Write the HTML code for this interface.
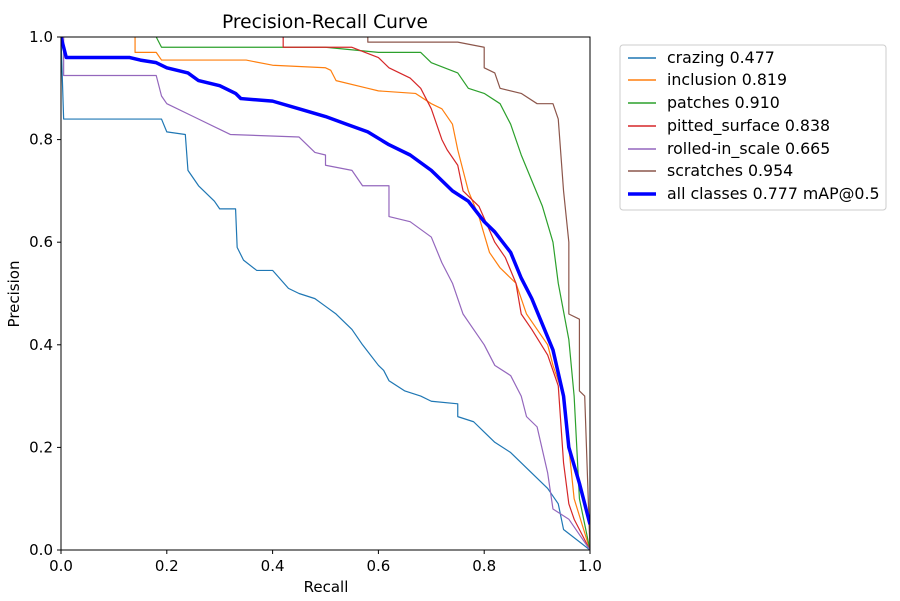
<!DOCTYPE html>
<html><head><meta charset="utf-8"><style>
body{margin:0;background:#fff;}
text{font-family:"DejaVu Sans","Liberation Sans",sans-serif;fill:#000;}
</style></head><body>
<svg width="900" height="596" xmlns="http://www.w3.org/2000/svg">
<rect width="900" height="596" fill="#fff"/>
<text x="325" y="28" font-size="18.6" text-anchor="middle">Precision-Recall Curve</text>
<defs><clipPath id="c"><rect x="61" y="37" width="529" height="513"/></clipPath></defs>
<g clip-path="url(#c)" fill="none" stroke-linejoin="round">
<g transform="translate(61,550) scale(529,-513)">
<polyline vector-effect="non-scaling-stroke" stroke="#1f77b4" stroke-width="1.2" points="0,1 0.005,0.84 0.19,0.84 0.2,0.815 0.235,0.81 0.24,0.74 0.26,0.71 0.29,0.68 0.3,0.665 0.33,0.665 0.333,0.59 0.345,0.565 0.37,0.545 0.4,0.545 0.43,0.51 0.45,0.5 0.48,0.49 0.5,0.475 0.52,0.46 0.55,0.43 0.57,0.4 0.6,0.36 0.61,0.35 0.62,0.33 0.65,0.31 0.68,0.3 0.7,0.29 0.75,0.285 0.75,0.26 0.78,0.25 0.8,0.23 0.82,0.21 0.85,0.19 0.88,0.16 0.9,0.14 0.92,0.12 0.94,0.09 0.95,0.04 1,0"/>
<polyline vector-effect="non-scaling-stroke" stroke="#ff7f0e" stroke-width="1.2" points="0.14,1 0.14,0.97 0.18,0.97 0.19,0.955 0.35,0.955 0.4,0.945 0.5,0.94 0.51,0.935 0.52,0.915 0.58,0.9 0.6,0.895 0.67,0.89 0.7,0.87 0.72,0.86 0.74,0.83 0.75,0.78 0.77,0.7 0.79,0.65 0.81,0.58 0.83,0.55 0.86,0.52 0.88,0.46 0.9,0.43 0.92,0.4 0.93,0.36 0.95,0.3 0.96,0.2 0.97,0.1 1,0"/>
<polyline vector-effect="non-scaling-stroke" stroke="#2ca02c" stroke-width="1.2" points="0.18,1 0.19,0.98 0.5,0.98 0.6,0.97 0.68,0.97 0.7,0.95 0.75,0.93 0.77,0.9 0.8,0.89 0.83,0.87 0.85,0.83 0.87,0.77 0.89,0.72 0.91,0.67 0.93,0.6 0.94,0.52 0.96,0.41 0.97,0.3 0.98,0.1 1,0"/>
<polyline vector-effect="non-scaling-stroke" stroke="#d62728" stroke-width="1.2" points="0.42,1 0.42,0.98 0.55,0.98 0.6,0.96 0.62,0.94 0.66,0.92 0.68,0.9 0.7,0.86 0.72,0.8 0.73,0.78 0.75,0.75 0.76,0.7 0.79,0.67 0.82,0.6 0.84,0.57 0.86,0.52 0.87,0.46 0.89,0.43 0.92,0.38 0.94,0.32 0.95,0.17 0.96,0.09 0.97,0.06 1,0"/>
<polyline vector-effect="non-scaling-stroke" stroke="#9467bd" stroke-width="1.2" points="0.005,1 0.005,0.925 0.18,0.925 0.19,0.885 0.2,0.87 0.25,0.845 0.3,0.82 0.32,0.81 0.45,0.805 0.48,0.775 0.5,0.77 0.5,0.75 0.55,0.74 0.57,0.71 0.62,0.71 0.62,0.65 0.66,0.64 0.7,0.61 0.72,0.56 0.74,0.52 0.76,0.46 0.78,0.43 0.8,0.4 0.82,0.36 0.85,0.34 0.87,0.3 0.88,0.26 0.9,0.24 0.92,0.15 0.93,0.08 0.96,0.06 1,0"/>
<polyline vector-effect="non-scaling-stroke" stroke="#8c564b" stroke-width="1.2" points="0.58,1 0.58,0.99 0.75,0.99 0.8,0.98 0.8,0.94 0.82,0.93 0.83,0.9 0.87,0.89 0.9,0.87 0.93,0.87 0.94,0.84 0.95,0.7 0.96,0.6 0.96,0.46 0.98,0.45 0.98,0.31 0.99,0.3 1,0"/>
<polyline vector-effect="non-scaling-stroke" stroke="#0000ff" stroke-width="3.5" points="0,1 0.01,0.96 0.13,0.96 0.15,0.955 0.18,0.95 0.2,0.94 0.24,0.93 0.26,0.915 0.3,0.905 0.33,0.89 0.34,0.88 0.4,0.875 0.45,0.86 0.5,0.845 0.54,0.83 0.58,0.815 0.62,0.79 0.66,0.77 0.7,0.74 0.74,0.7 0.77,0.68 0.8,0.64 0.82,0.62 0.85,0.58 0.87,0.53 0.89,0.49 0.91,0.44 0.93,0.39 0.95,0.3 0.96,0.2 0.98,0.13 0.99,0.09 1,0.05"/>
</g></g>
<rect x="61" y="37" width="529" height="513" fill="none" stroke="#000" stroke-width="1"/>
<g stroke="#000" stroke-width="1">
<line x1="61" y1="550" x2="61" y2="554"/><line x1="166.8" y1="550" x2="166.8" y2="554"/><line x1="272.6" y1="550" x2="272.6" y2="554"/><line x1="378.4" y1="550" x2="378.4" y2="554"/><line x1="484.2" y1="550" x2="484.2" y2="554"/><line x1="590" y1="550" x2="590" y2="554"/>
<line x1="57" y1="550" x2="61" y2="550"/><line x1="57" y1="447.4" x2="61" y2="447.4"/><line x1="57" y1="344.8" x2="61" y2="344.8"/><line x1="57" y1="242.2" x2="61" y2="242.2"/><line x1="57" y1="139.6" x2="61" y2="139.6"/><line x1="57" y1="37" x2="61" y2="37"/>
</g>
<g font-size="15" text-anchor="middle">
<text x="61" y="571">0.0</text><text x="166.8" y="571">0.2</text><text x="272.6" y="571">0.4</text><text x="378.4" y="571">0.6</text><text x="484.2" y="571">0.8</text><text x="590" y="571">1.0</text>
</g>
<g font-size="15" text-anchor="end">
<text x="53" y="555">0.0</text><text x="53" y="452.4">0.2</text><text x="53" y="349.8">0.4</text><text x="53" y="247.2">0.6</text><text x="53" y="144.6">0.8</text><text x="53" y="42">1.0</text>
</g>
<text x="326" y="592" font-size="15" text-anchor="middle">Recall</text>
<text transform="translate(19,294) rotate(-90)" font-size="15" text-anchor="middle">Precision</text>
<rect x="620" y="45" width="266" height="165" rx="3" fill="#fff" stroke="#ccc"/>
<g stroke-width="1.5">
<line x1="628" y1="58" x2="656" y2="58" stroke="#1f77b4"/>
<line x1="628" y1="80" x2="656" y2="80" stroke="#ff7f0e"/>
<line x1="628" y1="103" x2="656" y2="103" stroke="#2ca02c"/>
<line x1="628" y1="126" x2="656" y2="126" stroke="#d62728"/>
<line x1="628" y1="149" x2="656" y2="149" stroke="#9467bd"/>
<line x1="628" y1="171" x2="656" y2="171" stroke="#8c564b"/>
<line x1="628" y1="194" x2="656" y2="194" stroke="#0000ff" stroke-width="3.5"/>
</g>
<g font-size="15.8">
<text x="667" y="63">crazing 0.477</text>
<text x="667" y="85">inclusion 0.819</text>
<text x="667" y="108">patches 0.910</text>
<text x="667" y="131">pitted_surface 0.838</text>
<text x="667" y="154">rolled-in_scale 0.665</text>
<text x="667" y="176">scratches 0.954</text>
<text x="667" y="199">all classes 0.777 mAP@0.5</text>
</g>
</svg>
</body></html>
